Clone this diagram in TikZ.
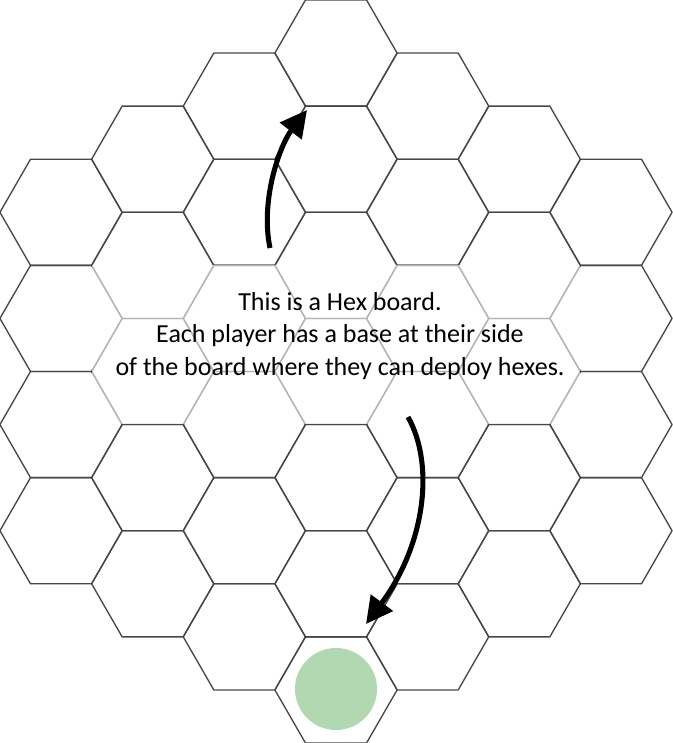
\documentclass[tikz,border=0pt]{standalone}
\usepackage{fontspec}
\setmainfont{Carlito}
\usepackage{xcolor}
\definecolor{Sage}{HTML}{B2D8B2}
\usetikzlibrary{arrows.meta}

\begin{document}
\begin{tikzpicture}[
    x=0.75pt, y=-0.75pt,
    >={Triangle[length=20pt,width=20pt]},
    cell/.style={draw=black!72,line width=1pt,line join=round},   % one hex
    veil/.style={fill=white,fill opacity=0.6},   % pale band under the note
    move/.style={->,line width=3.8pt,black},
    seat/.style={circle,fill=Sage,minimum size=61.5pt,inner sep=0pt},
    note/.style={font=\fontsize{19.5}{24.6}\selectfont,align=center,text=black},
  ]
  \def\S{61.1}   % hex side
  \def\H{53.07}  % half height of a hex
  \useasboundingbox (0,0) rectangle (672,743);

  % ---------- board: 37 cells, flat tops ----------
  \foreach \c in {-3,...,3}
    {\pgfmathtruncatemacro\n{6-abs(\c)}
     \foreach \k in {0,...,\n}
       \draw[cell] ({336+1.5*\S*\c},{\H*(1+abs(\c)+2*\k)})
         +(-\S,0) -- +(-\S/2,-\H) -- +(\S/2,-\H) -- +(\S,0)
         -- +(\S/2,\H) -- +(-\S/2,\H) -- cycle;}

  % ---------- veil and note ----------
  \fill[veil] (92,265) rectangle (580,424);
  \node[note] (msg) at (340,336)
    {This is a Hex board.\\Each player has a base at their side\\of the board where they can deploy hexes.};

  % ---------- home cell ----------
  \node[seat] (home) at (336,689) {};

  % ---------- arrows ----------
  \coordinate (upFrom) at (270,248);
  \coordinate (upTo)   at (307,110);
  \draw[move] (upFrom) .. controls (260,200) and (280,145) .. (upTo);
  \coordinate (dnFrom) at (408,417);
  \coordinate (dnTo)   at (366,624);
  \draw[move] (dnFrom) .. controls (435,465) and (425,545) .. (dnTo);
\end{tikzpicture}
\end{document}
